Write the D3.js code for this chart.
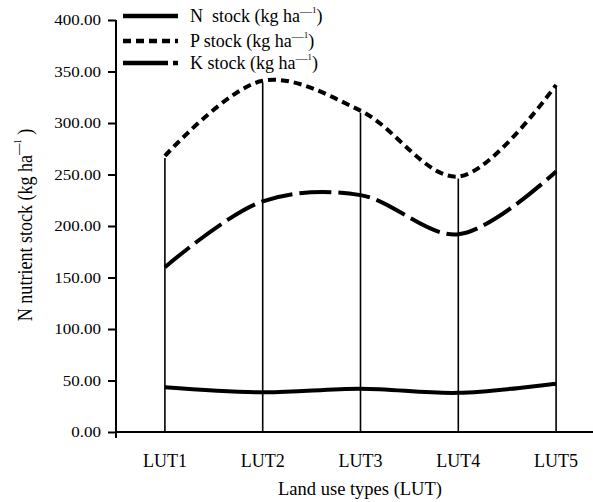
<!DOCTYPE html>
<html>
<head>
<meta charset="utf-8">
<style>
  body { margin: 0; background: #fff; }
  svg text { font-family: "Liberation Serif", "Times New Roman", serif !important; fill: #000; white-space: pre; }
  .line { fill: none; stroke: #000; stroke-width: 4px; }
  .drop { stroke: #000; stroke-width: 1.6px; }
  .axis path, .axis line { stroke: #000; stroke-width: 2px; }
</style>
</head>
<body>
<script src="https://cdn.jsdelivr.net/npm/d3@7"></script>
<script>
  // values
  var luts = ["LUT1", "LUT2", "LUT3", "LUT4", "LUT5"];
  var nStock = [43.5, 38.5, 42, 38, 47];
  var pStock = [268, 341, 312, 248, 337];
  var kStock = [160, 224, 230, 192, 253];
  var yTicks = [0, 50, 100, 150, 200, 250, 300, 350, 400];

  var width = 593, height = 502;
  var x0 = 116, y0 = 432, yTop = 20;
  var serif = "'Liberation Serif', 'Times New Roman', serif";

  var svg = d3.select("body").append("svg")
      .attr("width", width)
      .attr("height", height)
      .attr("font-family", serif);

  var x = d3.scalePoint().domain(luts).range([x0, x0 + 489]).padding(0.5);
  var y = d3.scaleLinear().domain([0, 400]).range([y0, yTop]);

  // y axis
  var yAxis = svg.append("g").attr("class", "axis")
      .attr("transform", "translate(" + x0 + ",0)")
      .call(d3.axisLeft(y).tickValues(yTicks).tickFormat(d3.format(".2f")).tickSize(8).tickPadding(7).tickSizeOuter(0));
  yAxis.attr("font-family", serif).attr("font-size", 17);
  yAxis.select(".domain").remove();
  yAxis.append("line").attr("x1", 0).attr("x2", 0).attr("y1", yTop).attr("y2", y0 + 6)
      .attr("stroke", "#000").attr("stroke-width", 2);
  yAxis.selectAll(".tick text").attr("fill", "#000").attr("transform", "scale(1,0.88)");

  // x axis baseline
  svg.append("line")
      .attr("x1", x0).attr("x2", width).attr("y1", y0).attr("y2", y0)
      .attr("stroke", "#000").attr("stroke-width", 2);

  svg.selectAll(".xlab").data(luts).enter().append("text")
      .attr("class", "xlab")
      .attr("x", function(d) { return x(d); })
      .attr("y", 467)
      .attr("text-anchor", "middle")
      .style("font-size", "18px")
      .text(function(d) { return d; });

  // drop lines from baseline to the P value
  svg.selectAll(".drop").data(luts).enter().append("line")
      .attr("class", "drop")
      .attr("x1", function(d) { return x(d); })
      .attr("x2", function(d) { return x(d); })
      .attr("y1", y0)
      .attr("y2", function(d, i) { return y(pStock[i]) + 2; });

  var line = d3.line()
      .x(function(d, i) { return x(luts[i]); })
      .y(function(d) { return y(d); })
      .curve(d3.curveCatmullRom.alpha(0.5));

  svg.append("path").attr("class", "line").attr("d", line(nStock));
  svg.append("path").attr("class", "line").attr("d", line(pStock))
      .style("stroke-dasharray", "8,5");
  svg.append("path").attr("class", "line").attr("d", line(kStock))
      .style("stroke-dasharray", "32,7");

  // legend
  var legend = [
    { name: "N  stock (kg ha", dash: null, y: 16 },
    { name: "P stock (kg ha", dash: "8,5", y: 41 },
    { name: "K stock (kg ha", dash: "45,5,6,5", y: 63 }
  ];
  var lg = svg.selectAll(".lg").data(legend).enter().append("g").attr("class", "lg");
  lg.append("line")
      .attr("x1", 123).attr("x2", 178)
      .attr("y1", function(d) { return d.y; }).attr("y2", function(d) { return d.y; })
      .attr("stroke", "#000").attr("stroke-width", 4.5)
      .style("stroke-dasharray", function(d) { return d.dash; });
  var lt = lg.append("text")
      .attr("x", 190)
      .attr("y", function(d) { return d.y + 6; })
      .style("font-size", "18px");
  lt.append("tspan").text(function(d) { return d.name; });
  lt.append("tspan").attr("dy", -7).style("font-size", "12px").text("\u2014");
  lt.append("tspan").attr("dy", -2).style("font-size", "9px").text("1");
  lt.append("tspan").attr("dy", 9).text(")");

  // axis titles
  svg.append("text")
      .attr("x", 360).attr("y", 495)
      .attr("text-anchor", "middle")
      .style("font-size", "18.5px")
      .text("Land use types (LUT)");

  var yt = svg.append("text")
      .attr("transform", "translate(32,225) rotate(-90) scale(0.82,1)")
      .attr("text-anchor", "middle")
      .style("font-size", "22px");
  yt.append("tspan").text("N nutrient stock (kg ha");
  yt.append("tspan").attr("dy", -9).style("font-size", "14px").text("\u2014");
  yt.append("tspan").attr("dy", -2).style("font-size", "10px").text("1");
  yt.append("tspan").attr("dy", 11).text(" )");
</script>
</body>
</html>
